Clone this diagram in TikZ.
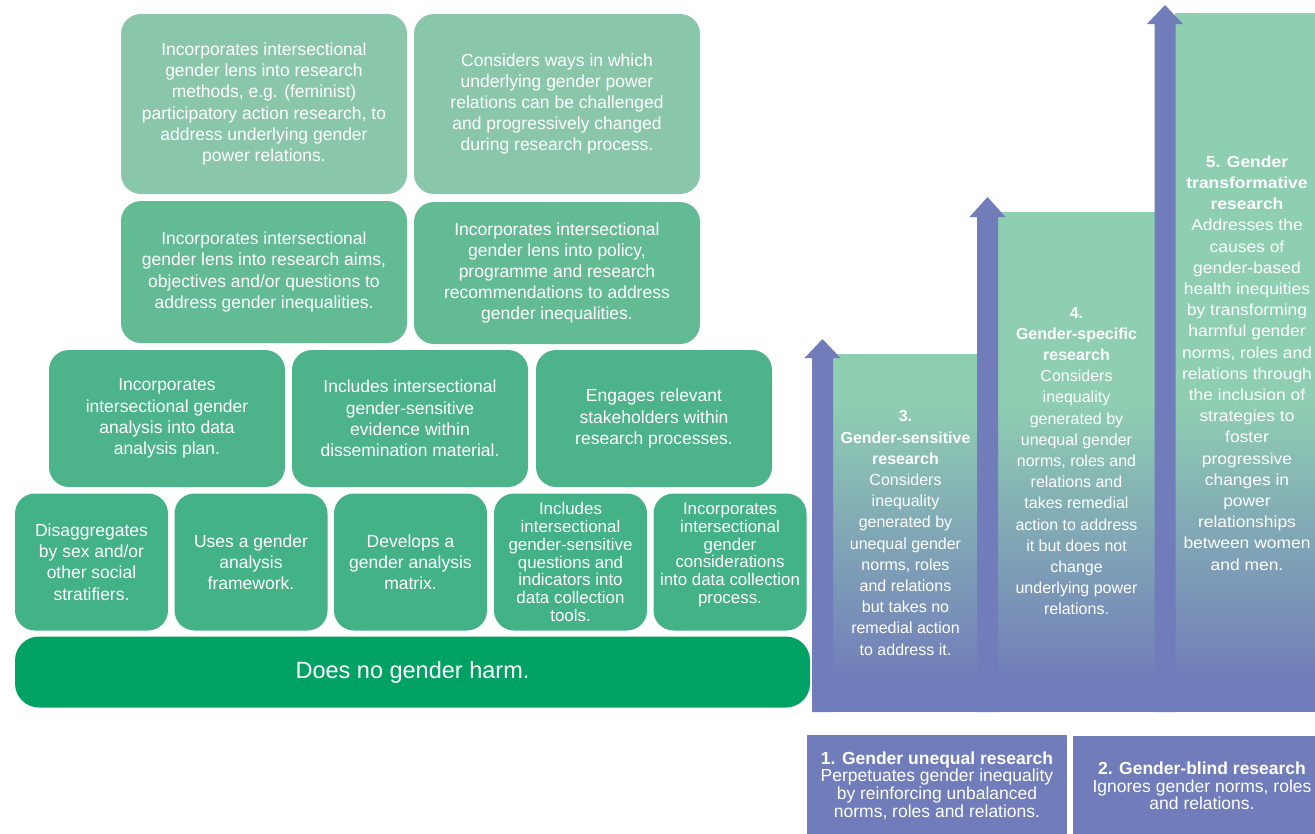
\documentclass[tikz,border=0pt]{standalone}
\usepackage{fontspec}
\setmainfont{Liberation Sans}
\newfontfamily\widefont[FakeStretch=1.09]{Liberation Sans}
\usetikzlibrary{calc}
\definecolor{gA}{HTML}{8AC7AA}
\definecolor{gB}{HTML}{63BB94}
\definecolor{gC}{HTML}{4CB38A}
\definecolor{gD}{HTML}{44B287}
\definecolor{gE}{HTML}{00A264}
\definecolor{cg}{HTML}{8FCFB1}
\definecolor{pu}{HTML}{717CBA}
\tikzset{
  box/.style={rounded corners=20pt, fill=#1, draw=none, text=white, align=center, inner sep=0pt,
    font=\fontsize{17.5}{21.2}\selectfont},
  smallbox/.style={box=#1, font=\fontsize{16.9}{17.8}\selectfont},
  coltext/.style={text=white, align=center, inner sep=0pt, font=\fontsize{16}{21.2}\selectfont},
  coltextwide/.style={text=white, align=center, inner sep=0pt, font=\widefont\fontsize{16}{21.2}\selectfont},
  levelbox/.style={fill=pu, draw=none, text=white, align=center, inner sep=0pt,
    font=\fontsize{17.5}{17.7}\selectfont},
  arrowshape/.style={fill=pu, draw=none},
}
\begin{document}
\begin{tikzpicture}[x=1pt,y=-1pt]
\useasboundingbox (0,0) rectangle (1315,833);
\clip (0,0) rectangle (1315,833);

% ---- left pyramid ----
\node[box=gA, minimum width=286pt, minimum height=180pt] (r1a) at (264,104)
  {Incorporates intersectional\\gender lens into research\\methods, e.g. (feminist)\\participatory action research, to\\address underlying gender\\power relations.};
\node[box=gA, minimum width=286pt, minimum height=180pt] (r1b) at (557,104)
  {Considers ways in which\\underlying gender power\\relations can be challenged\\and progressively changed\\during research process.};

\node[box=gB, minimum width=286pt, minimum height=142pt] (r2a) at (264,272)
  {Incorporates intersectional\\gender lens into research aims,\\objectives and/or questions to\\address gender inequalities.};
\node[box=gB, minimum width=286pt, minimum height=142pt] (r2b) at (557,273)
  {Incorporates intersectional\\gender lens into policy,\\programme and research\\recommendations to address\\gender inequalities.};

\node[box=gC, minimum width=236pt, minimum height=137pt] (r3a) at (167,418.5)
  {Incorporates\\intersectional gender\\analysis into data\\analysis plan.};
\node[box=gC, minimum width=236pt, minimum height=137pt] (r3b) at (410,418.5)
  {Includes intersectional\\gender-sensitive\\evidence within\\dissemination material.};
\node[box=gC, minimum width=236pt, minimum height=137pt] (r3c) at (654,418.5)
  {Engages relevant\\stakeholders within\\research processes.};

\node[box=gD, minimum width=153pt, minimum height=137pt] (r4a) at (91.5,562)
  {Disaggregates\\by sex and/or\\other social\\stratifiers.};
\node[box=gD, minimum width=153pt, minimum height=137pt] (r4b) at (251,562)
  {Uses a gender\\analysis\\framework.};
\node[box=gD, minimum width=153pt, minimum height=137pt] (r4c) at (410.5,562)
  {Develops a\\gender analysis\\matrix.};
\node[smallbox=gD, minimum width=153pt, minimum height=137pt] (r4d) at (570.5,562)
  {Includes\\intersectional\\gender-sensitive\\questions and\\indicators into\\data collection\\tools.};
\node[smallbox=gD, minimum width=153pt, minimum height=137pt] (r4e) at (730,562)
  {Incorporates\\intersectional\\gender\\considerations\\into data collection\\process.\\ ~};

\node[box=gE, rounded corners=24pt, minimum width=795pt, minimum height=71pt,
  font=\fontsize{23.5}{26}\selectfont] (base) at (412.5,672) {Does no gender harm.};

% ---- right columns (gradient from green to purple) ----
\fill[cg] (833,354) rectangle (978,400);
\fill[cg] (998,212) rectangle (1155,400);
\fill[cg] (1175,13) rectangle (1331,400);
\shade[top color=cg, bottom color=pu] (833,400) rectangle (1331,682);
\fill[pu] (812,681) rectangle (1331,712);

% arrows
\coordinate (a3b) at (822.5,712); \coordinate (a3t) at (822.5,339);
\coordinate (a4b) at (987.5,712); \coordinate (a4t) at (987.5,197);
\coordinate (a5b) at (1165,712);  \coordinate (a5t) at (1165,5);
\foreach \n/\hb in {3/19,4/20,5/19}{
  \fill[arrowshape] ($(a\n b)+(-10.5,0)$) -- ($(a\n t)+(-10.5,\hb)$) -- ($(a\n t)+(-18,\hb)$) --
    (a\n t) -- ($(a\n t)+(18,\hb)$) -- ($(a\n t)+(10.5,\hb)$) -- ($(a\n b)+(10.5,0)$) -- cycle;
}

\node[coltext] (c3) at (905.5,533)
  {\textbf{3.}\\\textbf{Gender-sensitive}\\\textbf{research}\\Considers\\inequality\\generated by\\unequal gender\\norms, roles\\and relations\\but takes no\\remedial action\\to address it.};
\node[coltext] (c4) at (1076.5,461)
  {\textbf{4.}\\\textbf{Gender-specific}\\\textbf{research}\\Considers\\inequality\\generated by\\unequal gender\\norms, roles and\\relations and\\takes remedial\\action to address\\it but does not\\change\\underlying power\\relations.};
\node[coltextwide] (c5) at (1247,363)
  {\textbf{5. Gender}\\\textbf{transformative}\\\textbf{research}\\Addresses the\\causes of\\gender-based\\health inequities\\by transforming\\harmful gender\\norms, roles and\\relations through\\the inclusion of\\strategies to\\foster\\progressive\\changes in\\power\\relationships\\between women\\and men.};

% ---- bottom level boxes ----
\node[levelbox, minimum width=260pt, minimum height=101pt] (l1) at (937,785.5)
  {\textbf{1. Gender unequal research}\\Perpetuates gender inequality\\by reinforcing unbalanced\\norms, roles and relations.};
\node[levelbox, minimum width=258pt, minimum height=101pt] (l2) at (1202,786)
  {\textbf{2. Gender-blind research}\\Ignores gender norms, roles\\and relations.};
\end{tikzpicture}
\end{document}
